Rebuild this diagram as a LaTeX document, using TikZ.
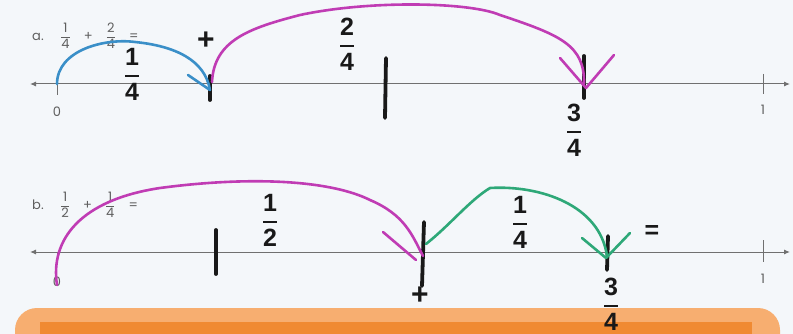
\documentclass[tikz,border=0pt]{standalone}
\usepackage{fontspec}
\usepackage{amsmath}
\setmainfont{Poppins}
\newfontfamily\handfont{Liberation Sans}
\usetikzlibrary{arrows.meta}
\definecolor{paper}{HTML}{F4F7FA}
\definecolor{axisgray}{HTML}{707070}
\definecolor{penblue}{HTML}{3A8FC8}
\definecolor{penmag}{HTML}{C03CB4}
\definecolor{pengreen}{HTML}{2EA878}
\definecolor{boxlight}{HTML}{F7AE70}
\definecolor{boxdark}{HTML}{F08A32}
\newcommand{\hfrac}[2]{$\genfrac{}{}{2pt}{0}{\text{#1}}{\text{#2}}$}
\newcommand{\pfrac}[2]{$\genfrac{}{}{0.5pt}{0}{\text{#1}}{\text{#2}}$}
\tikzset{
    numline/.style={line width=1pt,axisgray,{Latex[length=6pt,width=5pt]}-{Latex[length=6pt,width=5pt]}},
    printtick/.style={line width=.8pt,axisgray},
    pentick/.style={line width=3.8pt,black!90,line cap=round},
    penstroke/.style={line width=2.6pt,line cap=round,line join=round},
    printed/.style={text=axisgray!85!black,font=\fontsize{13}{13}\selectfont,inner sep=0pt},
    hand/.style={font=\handfont\bfseries\fontsize{25}{25}\selectfont,inner sep=0pt,text=black!90}
}
\begin{document}
\begin{tikzpicture}[x=1pt,y=-1pt]
\useasboundingbox (0,0) rectangle (793,334);
\fill[paper] (0,0) rectangle (793,334);

% bottom box
\begin{scope}
\clip (0,0) rectangle (793,334);
\fill[boxlight,rounded corners=22pt] (15,308) rectangle (780,370);
\fill[boxdark] (40,322) rectangle (752,370);
\end{scope}

% number line a
\coordinate (aL) at (30,84);
\coordinate (aR) at (790,84);
\draw[numline] (aL)--(aR);
\draw[printtick] (57,84)--(57,95);
\draw[printtick] (763,74)--(763,94);
\coordinate[label={[printed]center:0}] (a0) at (57,112);
\coordinate[label={[printed]center:1}] (a1) at (763,110);
\node[printed] (alab) at (38,37) {a.};
\node[printed,anchor=west] (aeq) at (60,36) {\pfrac{1}{4}\quad+\quad\pfrac{2}{4}\quad=};

% number line b
\coordinate (bL) at (30,252);
\coordinate (bR) at (790,252);
\draw[numline] (bL)--(bR);
\draw[printtick] (57,252)--(57,263);
\draw[printtick] (763,240)--(763,262);
\coordinate[label={[printed]center:0}] (b0) at (57,282);
\coordinate[label={[printed]center:1}] (b1) at (763,279);
\node[printed] (blab) at (38,205) {b.};
\node[printed,anchor=west] (beq) at (60,205) {\pfrac{1}{2}\quad+\quad\pfrac{1}{4}\quad=};

% hand ticks
\coordinate (qa) at (210,90);
\coordinate (ha) at (385,84);
\coordinate (ta) at (584,84);
\draw[pentick] (210,76)--(210,100);
\draw[pentick] (386,58)--(385,118);
\draw[pentick] (584,56)--(584,98);

\coordinate (hb) at (216,252);
\coordinate (qb) at (423,256);
\coordinate (tb) at (607,256);
\draw[pentick] (216,230)--(216,274);
\draw[pentick] (424,222)--(422,286);
\draw[pentick] (608,236)--(607,270);

% jumps a
\draw[penstroke,penblue] (a0|-aL) .. controls (57,50) and (105,38) .. (135,42)
    .. controls (175,46) and (205,60) .. (qa);
\draw[penstroke,penblue] (188,75)--(qa);
\draw[penstroke,penmag] (212,82) .. controls (214,40) and (250,28) .. (300,15)
    .. controls (370,0) and (470,2) .. (500,15)
    .. controls (560,35) and (585,45) .. (ta);
\draw[penstroke,penmag] (560,58)--(586,88)--(614,55);

% jumps b
\draw[penstroke,penmag] (57,285) .. controls (50,240) and (80,200) .. (160,188)
    .. controls (250,176) and (330,180) .. (370,200)
    .. controls (405,215) and (412,235) .. (qb);
\draw[penstroke,penmag] (383,232)--(416,260);
\draw[penstroke,pengreen] (426,244) .. controls (450,225) and (470,200) .. (490,188)
    .. controls (540,185) and (600,205) .. (tb);
\draw[penstroke,pengreen] (582,238)--(606,258)--(630,233);

% hand labels
\node[hand] (quartA) at (132,74) {\hfrac{1}{4}};
\node[hand,font=\handfont\bfseries\fontsize{30}{30}\selectfont] (plusA) at (206,41) {+};
\node[hand] (twoq) at (347,44) {\hfrac{2}{4}};
\node[hand] (threeqA) at (574,130) {\hfrac{3}{4}};
\node[hand] (half) at (270,220) {\hfrac{1}{2}};
\node[hand] (quartB) at (520,222) {\hfrac{1}{4}};
\node[hand] (eqB) at (652,232) {=};
\node[hand,font=\handfont\bfseries\fontsize{30}{30}\selectfont] (plusB) at (420,296) {+};
\node[hand] (threeqB) at (611,304) {\hfrac{3}{4}};
\end{tikzpicture}
\end{document}
